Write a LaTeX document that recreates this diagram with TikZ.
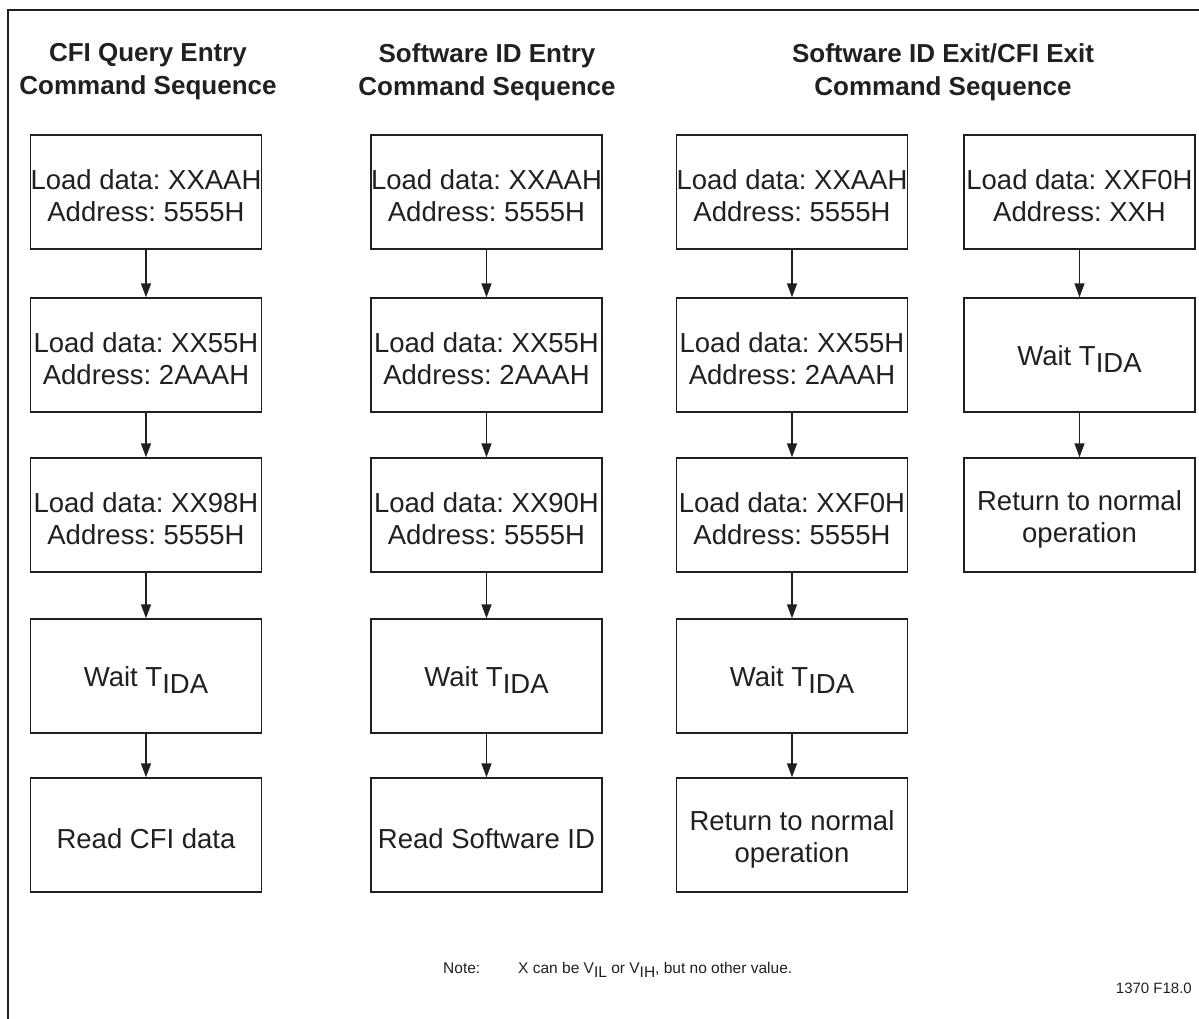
\documentclass[tikz,border=0pt]{standalone}
\usepackage{fontspec}
\setmainfont{Liberation Sans}
\frenchspacing
\usetikzlibrary{arrows.meta}
\definecolor{ink}{HTML}{231F20}
\newcommand{\lsub}[1]{\raisebox{-0.28em}{#1}}
% box with its text (text node sits a little below the box centre)
\newcommand{\bx}[4]{%
  \node[box] (#1) at (#2,#3) {};
  \node[btxt] (#1t) at ([yshift=-4pt]#1.center) {#4};}
\begin{document}
\begin{tikzpicture}[x=1pt,y=-1pt,
  box/.style={draw=ink, line width=1.4pt, minimum width=231pt, minimum height=114pt, inner sep=0pt},
  btxt/.style={inner sep=0pt, align=center, text=ink, font=\fontsize{27.5}{32}\selectfont},
  ttl/.style={align=center, text=ink, font=\fontsize{26}{33}\selectfont\bfseries},
  arr/.style={draw=ink, line width=1.4pt, -{Triangle[length=14pt,width=10pt]}},
  small/.style={text=ink, inner sep=0pt, font=\fontsize{15.5}{18}\selectfont},
]
\useasboundingbox (0,0) rectangle (1199,1019);
% frame (only top and left edges visible)
\draw[ink, line width=2pt] (7.5,1019) -- (7.5,10.5) -- (1199,10.5);

% titles
\node[ttl] (t1) at (148,72) {CFI Query Entry\\Command Sequence};
\node[ttl] (t2) at (487,72) {Software ID Entry\\Command Sequence};
\node[ttl] (t3) at (943,72) {Software ID Exit/CFI Exit\\Command Sequence};

% column 1
\bx{a1}{146}{192}{Load data: XXAAH\\Address: 5555H}
\bx{a2}{146}{355}{Load data: XX55H\\Address: 2AAAH}
\bx{a3}{146}{515}{Load data: XX98H\\Address: 5555H}
\bx{a4}{146}{676}{Wait T\lsub{IDA}}
\bx{a5}{146}{835}{Read CFI data}

% column 2
\bx{b1}{486.5}{192}{Load data: XXAAH\\Address: 5555H}
\bx{b2}{486.5}{355}{Load data: XX55H\\Address: 2AAAH}
\bx{b3}{486.5}{515}{Load data: XX90H\\Address: 5555H}
\bx{b4}{486.5}{676}{Wait T\lsub{IDA}}
\bx{b5}{486.5}{835}{Read Software ID}

% column 3
\bx{c1}{792}{192}{Load data: XXAAH\\Address: 5555H}
\bx{c2}{792}{355}{Load data: XX55H\\Address: 2AAAH}
\bx{c3}{792}{515}{Load data: XXF0H\\Address: 5555H}
\bx{c4}{792}{676}{Wait T\lsub{IDA}}
\bx{c5}{792}{835}{Return to normal\\operation}

% column 4
\bx{d1}{1079.5}{192}{Load data: XXF0H\\Address: XXH}
\bx{d2}{1079.5}{355}{Wait T\lsub{IDA}}
\bx{d3}{1079.5}{515}{Return to normal\\operation}

% arrows
\foreach \c in {a,b,c}{
  \draw[arr] (\c1.south) -- (\c2.north);
  \draw[arr] (\c2.south) -- (\c3.north);
  \draw[arr] (\c3.south) -- (\c4.north);
  \draw[arr] (\c4.south) -- (\c5.north);
}
\draw[arr] (d1.south) -- (d2.north);
\draw[arr] (d2.south) -- (d3.north);

% note
\node[small, anchor=base west] (n1) at (443,973) {Note:};
\node[small, anchor=base west] (n2) at (518,973) {X can be V\lsub{IL} or V\lsub{IH}, but no other value.};
\node[small, anchor=base east, font=\fontsize{15}{18}\selectfont] (fig) at (1192,993) {1370 F18.0};
\end{tikzpicture}
\end{document}
